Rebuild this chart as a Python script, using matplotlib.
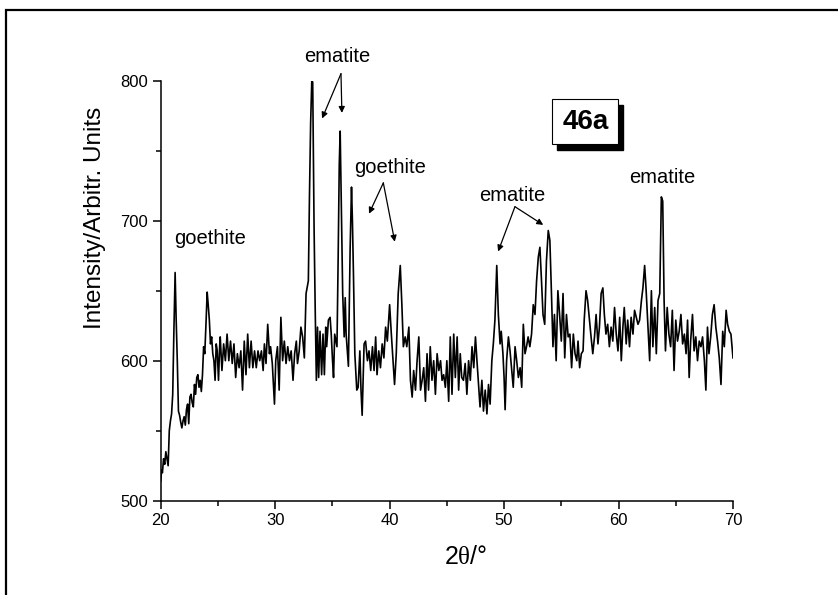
import matplotlib
matplotlib.use("Agg")
import matplotlib.pyplot as plt
from matplotlib.patches import Rectangle
from matplotlib.ticker import MultipleLocator

plt.rcParams["font.family"] = ["Liberation Sans", "DejaVu Sans"]
plt.rcParams["mathtext.fontset"] = "custom"
plt.rcParams["mathtext.rm"] = "Liberation Serif"
plt.rcParams["mathtext.it"] = "Liberation Serif:italic"

# XRD pattern (2theta in degrees, intensity in arb. units)
two_theta = [
    20.00, 20.08, 20.15, 20.25, 20.35, 20.45, 20.55, 20.65, 20.75, 20.85,
    20.95, 21.05, 21.15, 21.26, 21.35, 21.45, 21.55, 21.65, 21.75, 21.85,
    21.95, 22.05, 22.15, 22.25, 22.35, 22.45, 22.55, 22.65, 22.75, 22.85,
    22.95, 23.05, 23.15, 23.25, 23.35, 23.45, 23.55, 23.65, 23.75, 23.85,
    23.95, 24.06, 24.15, 24.25, 24.35, 24.45, 24.55, 24.65, 24.75, 24.85,
    24.94, 25.05, 25.15, 25.20, 25.35, 25.50, 25.65, 25.80, 25.95, 26.10,
    26.25, 26.40, 26.55, 26.70, 26.85, 27.00, 27.15, 27.30, 27.45, 27.60,
    27.75, 27.90, 28.05, 28.20, 28.35, 28.50, 28.65, 28.80, 28.95, 29.06,
    29.20, 29.35, 29.50, 29.60, 29.75, 29.94, 30.05, 30.20, 30.35, 30.50,
    30.65, 30.80, 30.95, 31.10, 31.25, 31.40, 31.56, 31.70, 31.85, 31.95,
    32.10, 32.25, 32.40, 32.55, 32.70, 32.90, 33.00, 33.10, 33.20, 33.28,
    33.40, 33.50, 33.60, 33.70, 33.80, 33.92, 34.06, 34.18, 34.30, 34.42,
    34.50, 34.65, 34.80, 34.90, 35.00, 35.10, 35.20, 35.40, 35.50, 35.60,
    35.68, 35.80, 35.90, 36.03, 36.12, 36.20, 36.40, 36.55, 36.67, 36.75,
    36.84, 36.96, 37.13, 37.25, 37.40, 37.50, 37.60, 37.77, 37.90, 38.06,
    38.20, 38.35, 38.50, 38.64, 38.78, 38.90, 39.05, 39.20, 39.35, 39.50,
    39.65, 39.80, 40.00, 40.15, 40.30, 40.43, 40.58, 40.75, 40.93, 41.07,
    41.20, 41.36, 41.50, 41.68, 41.82, 41.97, 42.10, 42.26, 42.40, 42.55,
    42.70, 42.84, 42.98, 43.13, 43.27, 43.40, 43.55, 43.70, 43.85, 44.00,
    44.15, 44.30, 44.45, 44.58, 44.72, 44.87, 45.00, 45.16, 45.30, 45.45,
    45.60, 45.74, 45.90, 46.03, 46.17, 46.30, 46.45, 46.60, 46.75, 46.90,
    47.05, 47.20, 47.35, 47.50, 47.63, 47.77, 47.90, 48.06, 48.20, 48.35,
    48.50, 48.64, 48.78, 48.93, 49.06, 49.20, 49.36, 49.50, 49.65, 49.75,
    49.90, 50.00, 50.09, 50.22, 50.38, 50.52, 50.67, 50.80, 50.96, 51.10,
    51.25, 51.40, 51.54, 51.68, 51.83, 51.96, 52.10, 52.25, 52.40, 52.55,
    52.70, 52.84, 52.99, 53.13, 53.27, 53.40, 53.55, 53.70, 53.86, 54.00,
    54.14, 54.27, 54.40, 54.55, 54.70, 54.85, 55.00, 55.15, 55.30, 55.45,
    55.60, 55.75, 55.90, 56.05, 56.20, 56.35, 56.46, 56.60, 56.75, 56.90,
    57.00, 57.16, 57.30, 57.46, 57.60, 57.75, 57.90, 58.04, 58.20, 58.33,
    58.48, 58.63, 58.76, 58.90, 59.05, 59.20, 59.35, 59.50, 59.65, 59.80,
    59.95, 60.10, 60.24, 60.38, 60.50, 60.67, 60.80, 60.96, 61.10, 61.26,
    61.40, 61.55, 61.70, 61.84, 62.00, 62.13, 62.28, 62.40, 62.57, 62.72,
    62.87, 63.00, 63.16, 63.30, 63.45, 63.60, 63.74, 63.86, 63.98, 64.10,
    64.25, 64.40, 64.55, 64.70, 64.85, 65.00, 65.15, 65.30, 65.45, 65.60,
    65.75, 65.90, 66.03, 66.17, 66.30, 66.46, 66.60, 66.75, 66.90, 67.05,
    67.20, 67.34, 67.50, 67.63, 67.77, 67.90, 68.05, 68.20, 68.35, 68.50,
    68.65, 68.80, 68.95, 69.10, 69.24, 69.40, 69.53, 69.68, 69.82, 70.00,
]
intensity = [
    514, 522, 520, 530, 526, 535, 530, 525, 550, 557,
    562, 576, 620, 663, 630, 600, 564, 561, 556, 552,
    557, 560, 554, 565, 569, 555, 574, 576, 570, 567,
    583, 576, 588, 590, 581, 586, 578, 590, 610, 605,
    625, 649, 640, 629, 612, 617, 605, 600, 586, 612,
    607, 586, 610, 617, 593, 612, 600, 619, 600, 614,
    598, 612, 588, 605, 595, 607, 579, 614, 590, 619,
    595, 614, 595, 607, 595, 607, 600, 607, 593, 612,
    598, 626, 605, 610, 598, 569, 600, 610, 579, 631,
    600, 614, 598, 610, 600, 607, 586, 605, 614, 598,
    607, 624, 617, 602, 648, 657, 719, 770, 800, 799,
    695, 636, 586, 624, 588, 621, 590, 619, 590, 624,
    610, 629, 631, 619, 602, 588, 619, 610, 671, 740,
    764, 700, 648, 617, 645, 619, 596, 680, 724, 700,
    662, 605, 579, 581, 607, 579, 561, 612, 614, 600,
    607, 593, 610, 593, 617, 590, 607, 595, 612, 602,
    624, 614, 640, 619, 600, 583, 605, 648, 668, 640,
    610, 617, 610, 624, 586, 574, 593, 579, 600, 617,
    579, 586, 595, 571, 605, 579, 610, 586, 600, 576,
    605, 593, 600, 586, 590, 581, 600, 571, 617, 576,
    619, 588, 617, 579, 605, 588, 586, 598, 576, 600,
    586, 610, 595, 617, 600, 583, 567, 586, 564, 579,
    562, 583, 569, 600, 612, 629, 668, 633, 612, 621,
    605, 588, 565, 600, 617, 607, 593, 581, 610, 600,
    588, 595, 581, 626, 605, 610, 617, 610, 619, 640,
    633, 657, 674, 681, 657, 633, 626, 671, 693, 686,
    648, 610, 633, 600, 650, 633, 614, 648, 602, 633,
    617, 619, 595, 619, 605, 600, 614, 595, 605, 607,
    629, 650, 643, 629, 617, 605, 617, 633, 612, 624,
    648, 652, 633, 619, 626, 610, 624, 614, 638, 619,
    607, 631, 600, 624, 638, 612, 629, 610, 631, 619,
    636, 631, 626, 629, 643, 652, 668, 652, 624, 600,
    650, 610, 638, 605, 643, 648, 717, 714, 643, 607,
    638, 619, 610, 636, 593, 629, 614, 621, 633, 612,
    619, 605, 629, 588, 614, 633, 607, 617, 600, 614,
    610, 617, 600, 579, 624, 605, 617, 633, 640, 624,
    614, 602, 583, 621, 610, 636, 626, 621, 619, 602,
]

labels = ["ematite", "goethite", "goethite", "ematite", "ematite"]
label_pos = [(35.4, 817), (24.3, 687), (40.0, 738), (50.7, 718), (63.8, 731)]
arrow_from = [(35.75, 805), None, (39.45, 727), (50.95, 710), None]
arrow_to = [
    [(34.1, 773), (35.83, 777)],
    [],
    [(38.2, 705), (40.45, 685)],
    [(49.48, 678), (53.42, 697)],
    [],
]
sample_label = "46a"

W, H = 838, 595
fig = plt.figure(figsize=(W / 100, H / 100), dpi=100)
ax = fig.add_axes([160.7 / W, 1 - 500.7 / H, (733 - 160.7) / W, 420 / H])

ax.plot(two_theta, intensity, color="black", lw=1.2)

ax.set_xlim(20, 70)
ax.set_ylim(500, 800)
ax.xaxis.set_major_locator(MultipleLocator(10))
ax.xaxis.set_minor_locator(MultipleLocator(5))
ax.yaxis.set_major_locator(MultipleLocator(100))
ax.yaxis.set_minor_locator(MultipleLocator(50))
ax.tick_params(which="major", direction="out", length=6, width=1.1, labelsize=12, pad=3)
ax.tick_params(which="minor", direction="out", length=3.5, width=1.1)
for side in ["top", "right"]:
    ax.spines[side].set_visible(False)
for side in ["left", "bottom"]:
    ax.spines[side].set_linewidth(1.1)

for text, pos, start, ends in zip(labels, label_pos, arrow_from, arrow_to):
    ax.text(pos[0], pos[1], text, ha="center", va="center", fontsize=14.5, clip_on=False)
    for end in ends:
        ax.annotate("", xy=end, xytext=start,
                    arrowprops=dict(arrowstyle="-|>", color="black", lw=0.9,
                                    mutation_scale=9, shrinkA=0, shrinkB=0),
                    annotation_clip=False)

# axis titles placed where the reference has them
fig.text(95 / W, 1 - 218 / H, "Intensity/Arbitr. Units", rotation=90,
         ha="center", va="center", fontsize=17.5)
fig.text(466 / W, 1 - 557 / H, r"2$\mathrm{\theta}$/°", ha="center", va="center",
         fontsize=18)

# sample tag with drop shadow
fig.add_artist(Rectangle((557.3 / W, 1 - 150 / H), 66 / W, 44.7 / H,
                         transform=fig.transFigure, facecolor="black", edgecolor="black"))
fig.add_artist(Rectangle((552.3 / W, 1 - 144 / H), 66 / W, 44.7 / H,
                         transform=fig.transFigure, facecolor="white", edgecolor="black", lw=0.8))
fig.text(585.3 / W, 1 - 122 / H, sample_label, ha="center", va="center",
         fontsize=20, fontweight="bold")

# outer frame, cut off at the right and bottom in the reference
fig.add_artist(Rectangle((5.5 / W, -0.1), 1.2, 1.1 - 10 / H, transform=fig.transFigure,
                         facecolor="none", edgecolor="black", lw=1.6))

fig.savefig("out.png", dpi=100)
